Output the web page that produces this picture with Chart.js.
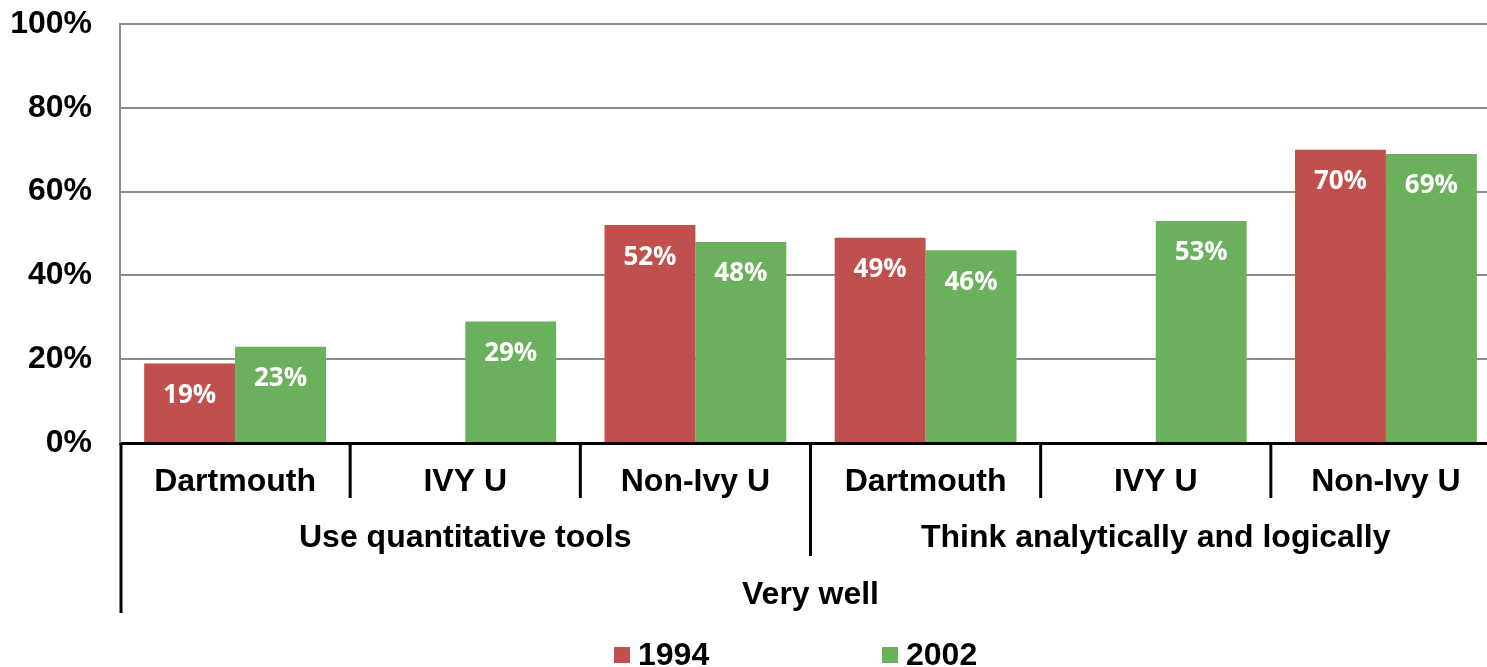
<!DOCTYPE html>
<html>
<head>
<meta charset="utf-8">
<script src="https://cdn.jsdelivr.net/npm/chart.js@4"></script>
<style>
  html, body { margin: 0; padding: 0; background: #fff; overflow: hidden; }
  #wrap { width: 1505px; height: 667px; }
</style>
</head>
<body>
<div id="wrap"><canvas id="skillsChart" width="1505" height="667"></canvas></div>
<script>
// data
const schools = ['Dartmouth', 'IVY U', 'Non-Ivy U', 'Dartmouth', 'IVY U', 'Non-Ivy U'];
const skills = ['Use quantitative tools', 'Think analytically and logically'];
const topGroup = 'Very well';
const v1994 = [19, null, 52, 49, null, 70];
const v2002 = [23, 29, 48, 46, 53, 69];
const yTicks = [0, 20, 40, 60, 80, 100];

const RED = '#c0504d', GREEN = '#6bb05d';
const axisFont = 'bold 32px "Liberation Sans", Arial, sans-serif';

// labels inside bars + multi level axis + legend
const extras = {
  id: 'extras',
  afterDatasetsDraw(chart) {
    const ctx = chart.ctx;
    ctx.save();
    ctx.fillStyle = '#fff';
    ctx.font = 'bold 26px "Open Sans", sans-serif';
    ctx.textAlign = 'center';
    ctx.textBaseline = 'middle';
    chart.data.datasets.forEach((ds, i) => {
      chart.getDatasetMeta(i).data.forEach((bar, j) => {
        if (ds.data[j] == null) return;
        ctx.fillText(ds.data[j] + '%', bar.x, bar.y + 32);
      });
    });
    ctx.restore();
  },
  afterDraw(chart) {
    const ctx = chart.ctx, x = chart.scales.x, a = chart.chartArea;
    const bottom = a.bottom;
    const half = (x.getPixelForValue(1) - x.getPixelForValue(0)) / 2;
    ctx.save();
    ctx.strokeStyle = '#000';
    ctx.lineWidth = 3;
    ctx.fillStyle = '#000';
    ctx.font = axisFont;
    ctx.textAlign = 'center';
    ctx.textBaseline = 'middle';
    const vline = (px, y2) => { ctx.beginPath(); ctx.moveTo(px, bottom); ctx.lineTo(px, y2); ctx.stroke(); };
    // row 1
    schools.forEach((s, i) => {
      const cx = x.getPixelForValue(i);
      ctx.fillText(s, cx, bottom + 39);
      if (i > 0 && i !== 3) vline(cx - half, bottom + 55);
    });
    // row 2
    skills.forEach((s, k) => {
      const l = x.getPixelForValue(k * 3) - half, r = x.getPixelForValue(k * 3 + 2) + half;
      ctx.fillText(s, (l + r) / 2, bottom + 95);
    });
    vline(x.getPixelForValue(3) - half, bottom + 113);
    // row 3
    const l0 = x.getPixelForValue(0) - half, r0 = x.getPixelForValue(5) + half;
    ctx.fillText(topGroup, (l0 + r0) / 2, bottom + 152);
    vline(l0 + 1, bottom + 170);
    // legend
    ctx.textAlign = 'left';
    const items = [{ t: '1994', c: RED, x: 614 }, { t: '2002', c: GREEN, x: 882 }];
    items.forEach(it => {
      ctx.fillStyle = it.c;
      ctx.fillRect(it.x, 647, 16, 16);
      ctx.fillStyle = '#000';
      ctx.fillText(it.t, it.x + 24, 656);
    });
    ctx.restore();
  }
};

new Chart(document.getElementById('skillsChart'), {
  type: 'bar',
  data: {
    labels: schools,
    datasets: [
      { label: '1994', data: v1994, backgroundColor: RED },
      { label: '2002', data: v2002, backgroundColor: GREEN }
    ]
  },
  options: {
    responsive: false,
    animation: false,
    layout: { padding: { top: 24, right: 4, left: 0, bottom: 0 } },
    datasets: { bar: { categoryPercentage: 0.79, barPercentage: 1 } },
    plugins: { legend: { display: false }, tooltip: { enabled: false } },
    scales: {
      x: {
        ticks: { display: false },
        grid: { display: false },
        border: { color: '#000', width: 3 },
        afterFit: s => { s.height = 224; }
      },
      y: {
        min: 0, max: 100,
        afterBuildTicks: s => { s.ticks = yTicks.map(v => ({ value: v })); },
        afterFit: s => { s.width = 120; s.paddingTop = 0; s.paddingBottom = 0; },
        ticks: {
          padding: 28,
          color: '#000',
          font: { family: '"Liberation Sans", Arial, sans-serif', size: 32, weight: 'bold' },
          callback: v => v + '%'
        },
        grid: { color: '#8c8c8c', lineWidth: 2, drawTicks: false },
        border: { color: '#8c8c8c', width: 2 }
      }
    }
  },
  plugins: [extras]
});
</script>
</body>
</html>
